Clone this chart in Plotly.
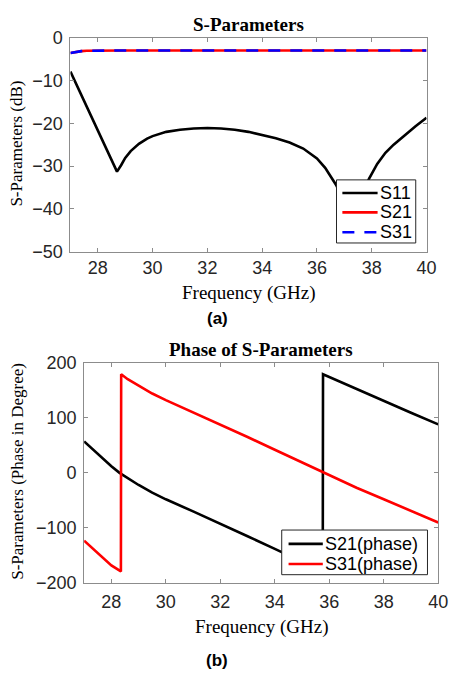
import plotly.graph_objects as go

# ---------------- data: (a) magnitude ----------------
freq_s11 = [27.0, 27.5, 28.0, 28.4, 28.7, 28.85, 29.0, 29.2, 29.5, 29.8, 30.0, 30.5, 31.0,
            31.5, 32.0, 32.5, 33.0, 33.5, 34.0, 34.5, 35.0, 35.5, 36.0, 36.3, 36.7,
            37.0, 37.25, 37.5, 37.7, 37.9, 38.2, 38.5, 38.8, 39.0, 39.3, 39.6, 40.0]
s11_db = [-7.9, -14.8, -21.7, -27.2, -31.3, -29.8, -28.1, -26.5, -24.8, -23.6, -23.0, -22.0, -21.5,
          -21.2, -21.1, -21.2, -21.5, -22.0, -22.7, -23.5, -24.5, -25.9, -28.2, -30.4, -34.4,
          -38.5, -42.5, -40.0, -36.0, -33.0, -29.5, -26.9, -25.0, -23.9, -22.3, -20.7, -18.7]

freq_s21 = [27.0, 27.2, 27.4, 27.6, 28, 29, 30, 31, 32, 33, 34, 35, 36, 37, 38, 39, 40]
s21_db = [-3.6, -3.3, -3.15, -3.05, -3.0, -3.0, -3.0, -3.0, -3.0, -3.0, -3.0, -3.0, -3.0,
          -3.0, -3.0, -3.0, -3.0]
s31_db = [-3.6, -3.3, -3.15, -3.05, -3.0, -3.0, -3.0, -3.0, -3.0, -3.0, -3.0, -3.0, -3.0,
          -3.0, -3.0, -3.0, -3.0]

# ---------------- data: (b) phase ----------------
freq_p21 = [27.0, 27.5, 28.0, 28.3, 28.6, 29.0, 29.5, 30.0, 31.0, 32.0, 33.0, 34.0, 35.0,
            35.76, 35.77, 36.5, 37.0, 38.0, 39.0, 40.0]
phase_s21 = [57, 34, 12, 0, -10, -22, -36, -48, -70, -92, -115, -138, -161,
             -179, 179, 163, 152, 131, 109, 88]

freq_p31 = [27.0, 27.5, 28.0, 28.35, 28.36, 28.6, 29.0, 29.5, 30.0, 31.0, 32.0, 33.0, 34.0,
            35.0, 35.76, 36.0, 37.0, 38.0, 39.0, 40.0]
phase_s31 = [-123, -146, -168, -179, 179, 170, 158, 144, 132, 110, 88, 65, 42,
             19, 1, -5, -27, -48, -69, -90]

x_ticks = [28, 30, 32, 34, 36, 38, 40]
y_ticks_a = [0, -10, -20, -30, -40, -50]
y_ticks_b = [200, 100, 0, -100, -200]

W, H = 459, 684
LW = 2.6
serif = "Liberation Serif, Times New Roman, serif"
sans = "Liberation Sans, Arial, sans-serif"

series_a = [("S11", freq_s11, s11_db, "#000000", "solid"),
            ("S21", freq_s21, s21_db, "#ff0000", "solid"),
            ("S31", freq_s21, s31_db, "#0000ff", "12px,10px")]
series_b = [("S21(phase)", freq_p21, phase_s21, "#000000", "solid"),
            ("S31(phase)", freq_p31, phase_s31, "#ff0000", "solid")]

fig = go.Figure()
for name, xs, ys, col, dash in series_a:
    fig.add_trace(go.Scatter(x=xs, y=ys, mode="lines", name=name, showlegend=False,
                             line=dict(color=col, width=LW, dash=dash),
                             xaxis="x", yaxis="y"))
for name, xs, ys, col, dash in series_b:
    fig.add_trace(go.Scatter(x=xs, y=ys, mode="lines", name=name, showlegend=False,
                             line=dict(color=col, width=LW, dash=dash),
                             xaxis="x2", yaxis="y2"))

tickfont = dict(family=sans, size=18, color="#262626")
axis_common = dict(showline=True, linecolor="#8c8c8c", linewidth=1, mirror="ticks",
                   ticks="inside", ticklen=4, tickcolor="#8c8c8c", showgrid=False,
                   zeroline=False, tickfont=tickfont)

fig.update_layout(
    width=W, height=H,
    margin=dict(l=0, r=0, t=0, b=0),
    paper_bgcolor="white", plot_bgcolor="white",
    showlegend=False,
    xaxis=dict(domain=[72 / W, 436 / W], range=[27, 40], tickvals=x_ticks,
               anchor="y", ticklabelstandoff=0, **axis_common),
    yaxis=dict(domain=[(H - 249) / H, (H - 28.5) / H], range=[-50, 0],
               tickvals=y_ticks_a, anchor="x", ticklabelstandoff=3, **axis_common),
    xaxis2=dict(domain=[86 / W, 448 / W], range=[27, 40], tickvals=x_ticks,
                anchor="y2", ticklabelstandoff=2, **axis_common),
    yaxis2=dict(domain=[(H - 590.3) / H, (H - 363.3) / H], range=[-200, 200],
                tickvals=y_ticks_b, anchor="x2", ticklabelstandoff=3, **axis_common),
)


def px(x, y):
    return x / W, (H - y) / H


def ann(text, x, y, size, family, bold=False, angle=0, xanchor="center"):
    ax, ay = px(x, y)
    fig.add_annotation(text=f"<b>{text}</b>" if bold else text,
                       x=ax, y=ay, xref="paper", yref="paper",
                       showarrow=False, xanchor=xanchor, yanchor="middle",
                       textangle=angle, font=dict(family=family, size=size, color="#000"))


def legend_box(x0, y0, x1, y1, entries, row_ys, line_x0, line_x1, text_x):
    a0, b0 = px(x0, y0)
    a1, b1 = px(x1, y1)
    fig.add_shape(type="rect", xref="paper", yref="paper", x0=a0, x1=a1, y0=b1, y1=b0,
                  fillcolor="white", line=dict(color="#262626", width=1), layer="above")
    for (name, _, _, col, dash), ry in zip(entries, row_ys):
        l0, ly = px(line_x0, ry)
        l1, _ = px(line_x1, ry)
        fig.add_shape(type="line", xref="paper", yref="paper", x0=l0, x1=l1, y0=ly, y1=ly,
                      line=dict(color=col, width=LW, dash=dash), layer="above")
        ann(name, text_x, ry, 18, sans, xanchor="left")


legend_box(344, 175, 425, 240, series_a, [188.5, 208.5, 229], 350, 386, 386)
legend_box(288, 535.7, 437, 581.7, series_b, [550, 570.7], 295, 330, 330)

ann("S-Parameters", 254, 15, 19, serif, bold=True)
ann("Frequency (GHz)", 254, 292, 19, serif)
ann("S-Parameters (dB)", 17, 138, 17, serif, angle=-90)
ann("(a)", 222, 318, 17, sans, bold=True)

ann("Phase of S-Parameters", 267, 350, 19, serif, bold=True)
ann("Frequency (GHz)", 267, 636, 19, serif)
ann("S-Parameters (Phase in Degree)", 17, 475, 17, serif, angle=-90)
ann("(b)", 222, 670, 17, sans, bold=True)

fig.write_html("out.html")
